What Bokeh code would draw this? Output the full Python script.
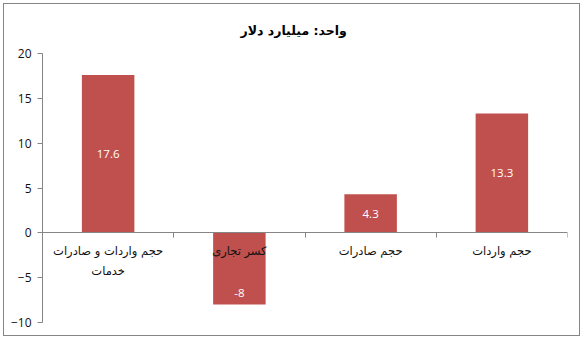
from bokeh.plotting import figure
from bokeh.models import ColumnDataSource, FixedTicker
from bokeh.core.properties import value
from bokeh.embed import file_html
from bokeh.resources import INLINE

categories = ["حجم واردات و صادرات\nخدمات", "کسر تجاری", "حجم صادرات", "حجم واردات"]
values = [17.6, -8.0, 4.3, 13.3]
value_labels = ["17.6", "-8", "4.3", "13.3"]
y_ticks = [-10, -5, 0, 5, 10, 15, 20]
title_text = "واحد: میلیارد دلار"

xs = [i + 0.5 for i in range(len(categories))]
label_y = [v / 2 if v > 0 else v + 1.3 for v in values]

src = ColumnDataSource(dict(x=xs, top=values, cat=categories,
                            lab=value_labels, ly=label_y,
                            zero=[0] * len(values)))

p = figure(width=577, height=333, x_range=(0, len(categories)), y_range=(-10, 20),
           output_backend="svg", toolbar_location=None,
           min_border_left=38, min_border_right=14, min_border_top=49,
           min_border_bottom=15)
p.styles = {"border": "1px solid #868686", "margin": "3px 0 0 3px"}
p.title.text = title_text
p.title.align = "left"
p.title.text_font = "DejaVu Sans"
p.title.text_font_size = "12.5px"
p.title.text_font_style = "bold"
p.title.text_color = "black"
p.title.offset = 198
p.title.standoff = 32
p.outline_line_color = None
p.xgrid.visible = False
p.ygrid.visible = False

p.vbar(x="x", top="top", bottom=0, width=0.4, source=src,
       fill_color="#C0504D", line_color=None)

# value labels
p.text(x="x", y="ly", text="lab", source=src, text_color="white",
       text_align="center", text_baseline="middle",
       text_font=value("Open Sans"), text_font_size="11.5px")

# category labels below zero line
p.text(x="x", y="zero", text="cat", source=src, text_color="#111111",
       text_align="center", text_baseline="top", y_offset=11,
       text_font=value("DejaVu Sans"), text_font_size="11.5px",
       text_line_height=1.45)

# y axis
p.yaxis.ticker = FixedTicker(ticks=y_ticks)
p.yaxis.axis_line_color = "#868686"
p.yaxis.major_tick_line_color = "#868686"
p.yaxis.major_tick_out = 5
p.yaxis.major_tick_in = 0
p.yaxis.minor_tick_line_color = None
p.yaxis.major_label_text_font = "Open Sans"
p.yaxis.major_label_text_font_size = "12px"
p.yaxis.major_label_text_color = "#111111"
p.yaxis.major_label_standoff = 6

# x axis at zero
p.xaxis.fixed_location = 0
p.xaxis.ticker = FixedTicker(ticks=list(range(len(categories) + 1)))
p.xaxis.axis_line_color = "#868686"
p.xaxis.major_tick_line_color = "#868686"
p.xaxis.major_tick_out = 5
p.xaxis.major_tick_in = 0
p.xaxis.minor_tick_line_color = None
p.xaxis.major_label_text_font_size = "0px"
p.xaxis.major_label_text_alpha = 0

open("out.html", "w").write(file_html(p, INLINE))
